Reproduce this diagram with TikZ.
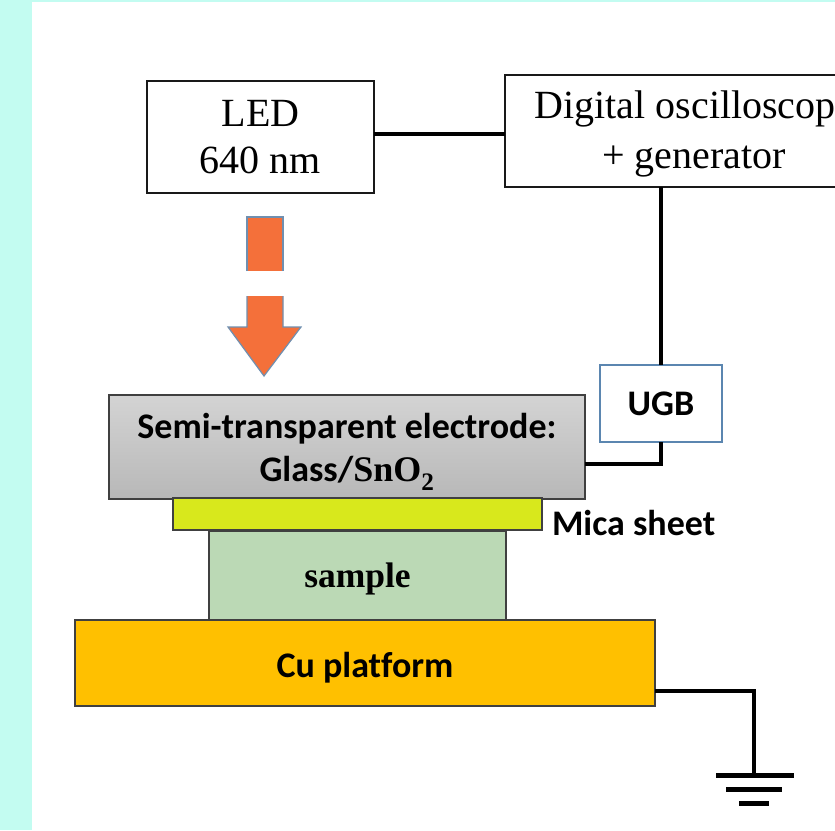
\documentclass[tikz,border=0pt]{standalone}
\usepackage{fontspec}
\setmainfont{Liberation Serif}
\newfontfamily\labelfont[Ligatures=NoCommon]{Carlito}
\usepackage{tikz}
\usetikzlibrary{positioning}
\definecolor{pagebg}{HTML}{C3FCF1}
\definecolor{ugbblue}{HTML}{5B86B0}
\definecolor{beamfill}{HTML}{F4703A}
\definecolor{beamedge}{HTML}{6F8FB0}
\definecolor{micafill}{HTML}{D8E81C}
\definecolor{samplefill}{HTML}{BBD9B5}
\definecolor{cufill}{HTML}{FFC000}

\begin{document}
\begin{tikzpicture}[x=1pt, y=-1pt,
    every node/.style={inner sep=0pt, outer sep=0pt},
    box/.style={draw=black!90, line width=1.8pt, anchor=north west, align=center},
    layer/.style={box, draw=black!75, line width=2pt, font=\labelfont\bfseries\fontsize{36}{43}\selectfont},
    wire/.style={line width=3.5pt, black}]
  % page
  \useasboundingbox (0,0) rectangle (835,830);
  \fill[pagebg] (0,0) rectangle (835,830);
  \fill[white] (32,2) rectangle (835,830);
  % boxes
  \node[box, minimum width=227pt, minimum height=112pt, font=\fontsize{40}{47}\selectfont] (led) at (147,81) {LED\\640 nm};
  \node[box, minimum width=378pt, minimum height=112pt, font=\fontsize{40}{50}\selectfont] (osc) at (505,75) {\rule{0pt}{33pt}Digital oscilloscop\phantom{e}\\+ generator};
  \node[box, draw=ugbblue, minimum width=122pt, minimum height=77pt, font=\labelfont\bfseries\fontsize{36}{40}\selectfont] (ugb) at (600,365) {UGB};
  % stack
  \node[layer, minimum width=476pt, minimum height=104pt, top color=black!17, bottom color=black!28] (electrode) at (109,395) {\rule{0pt}{35pt}Semi-transparent electrode:\\Glass/{\rmfamily SnO\textsubscript{2}}};
  \node[layer, fill=samplefill, minimum width=297pt, minimum height=89pt, font=\bfseries\fontsize{35.5}{40}\selectfont] (sample) at (209,531) {\rule{0pt}{31pt}sample};
  \node[layer, fill=micafill, minimum width=369pt, minimum height=32pt] (mica) at (173,498) {};
  \node[layer, fill=cufill, minimum width=580pt, minimum height=86pt] (cu) at (75,620) {\rule{0pt}{34pt}Cu platform};
  \node[font=\labelfont\bfseries\fontsize{36}{40}\selectfont, right=10pt of mica.south east, anchor=base west, yshift=-5pt] (micalabel) {Mica sheet};
  % beam
  \fill[beamfill] (247,217) rectangle (283,271);
  \draw[beamedge, line width=1.2pt] (247,271) -- (247,217) -- (283,217) -- (283,271);
  \draw[beamedge, line width=1.2pt, fill=beamfill] (247,296) -- (247,327) -- (228,327) -- (264,376) -- (301,327) -- (283,327) -- (283,296);
  \fill[beamfill] (247.6,296) rectangle (282.4,328);
  % wires
  \coordinate (gnd) at (754,775);
  \draw[wire] ([yshift=3pt]led.east) -- ([yshift=3pt]led.east -| osc.west);
  \draw[wire] (osc.south -| ugb.north) -- (ugb.north);
  \draw[wire] (ugb.south) |- ([yshift=-17pt]electrode.east);
  \draw[wire] ([yshift=-28pt]cu.east) -| (gnd);
  % ground
  \draw[line width=5pt] (716,775) -- (794,775);
  \draw[line width=5pt] (726,789) -- (782,789);
  \draw[line width=5pt] (739,803) -- (769,803);
\end{tikzpicture}
\end{document}
